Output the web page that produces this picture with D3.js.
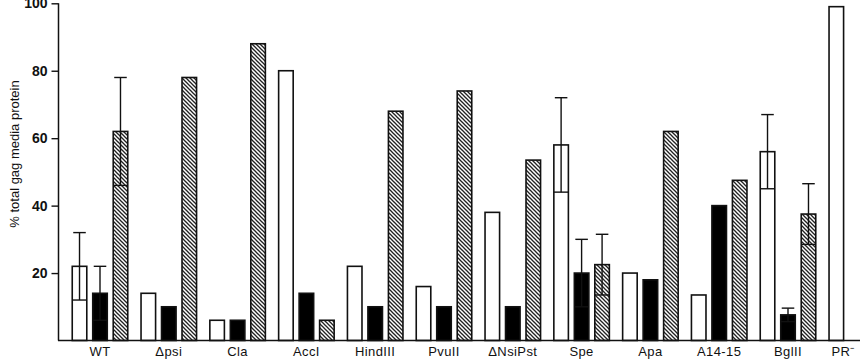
<!DOCTYPE html>
<html>
<head>
<meta charset="utf-8">
<script src="https://d3js.org/d3.v7.min.js"></script>
<style>
  body { margin: 0; background: #fff; }
  text { font-family: "Liberation Sans", Arial, sans-serif; fill: #111; }
</style>
</head>
<body>
<script>
// categories along the x axis
var groups = ['WT', 'Δpsi', 'Cla', 'AccI', 'HindIII', 'PvuII', 'ΔNsiPst', 'Spe', 'Apa', 'A14-15', 'BglII', 'PR'];
var series = ['open', 'solid', 'hatched'];

// values per series (% total gag media protein), null = no bar
var openVals    = [22, 14, 6, 80, 22, 16, 38, 58, 20, 13.5, 56, 99];
var solidVals   = [14, 10, 6, 14, 10, 10, 10, 20, 18, 40, 7.6, null];
var hatchedVals = [62, 78, 88, 6, 68, 74, 53.5, 22.5, 62, 47.5, 37.5, null];

// error bar half widths, 0 = none
var openErr    = [10, 0, 0, 0, 0, 0, 0, 14, 0, 0, 11, 0];
var solidErr   = [8, 0, 0, 0, 0, 0, 0, 10, 0, 0, 2, 0];
var hatchedErr = [16, 0, 0, 0, 0, 0, 0, 9, 0, 0, 9, 0];

var yTicks = [20, 40, 60, 80, 100];

var W = 860, H = 364;

var svg = d3.select('body').append('svg')
  .attr('width', W)
  .attr('height', H);

// hatch pattern
svg.append('defs').append('pattern')
  .attr('id', 'hatch')
  .attr('patternUnits', 'userSpaceOnUse')
  .attr('width', 4).attr('height', 4)
  .selectAll('path')
  .data(['M0,0 L4,4', 'M-1,3 L1,5', 'M3,-1 L5,1'])
  .enter().append('path')
  .attr('d', function(d) { return d; })
  .attr('stroke', '#222')
  .attr('stroke-width', 1.3);

var y = d3.scaleLinear().domain([0, 100]).range([340.5, 3.3]);

var x = d3.scaleBand().domain(groups)
  .range([65.6, 65.6 + groups.length * 68.8])
  .paddingInner(0.193).paddingOuter(0.0965);

var xs = d3.scaleBand().domain(series)
  .range([0, x.bandwidth()])
  .paddingInner(0.29);

var valsBy = { open: openVals, solid: solidVals, hatched: hatchedVals };
var errBy = { open: openErr, solid: solidErr, hatched: hatchedErr };
var fillBy = { open: '#fff', solid: '#000', hatched: 'url(#hatch)' };

var bars = [];
groups.forEach(function(g, i) {
  series.forEach(function(s) {
    if (valsBy[s][i] != null) {
      bars.push({ g: g, s: s, v: valsBy[s][i], e: errBy[s][i] });
    }
  });
});

// bars
svg.selectAll('rect.bar')
  .data(bars)
  .enter().append('rect')
  .attr('class', 'bar')
  .attr('x', function(d) { return x(d.g) + xs(d.s); })
  .attr('y', function(d) { return y(d.v); })
  .attr('width', xs.bandwidth())
  .attr('height', function(d) { return y(0) - y(d.v); })
  .attr('fill', function(d) { return fillBy[d.s]; })
  .attr('stroke', '#111')
  .attr('stroke-width', 1.6);

// error bars
var eb = svg.selectAll('g.err')
  .data(bars.filter(function(d) { return d.e > 0; }))
  .enter().append('g')
  .attr('class', 'err')
  .attr('stroke', '#111')
  .attr('stroke-width', 1.4);

eb.append('line')
  .attr('x1', function(d) { return x(d.g) + xs(d.s) + xs.bandwidth() / 2; })
  .attr('x2', function(d) { return x(d.g) + xs(d.s) + xs.bandwidth() / 2; })
  .attr('y1', function(d) { return y(Math.max(0, d.v - d.e)); })
  .attr('y2', function(d) { return y(d.v + d.e); });

eb.append('line')
  .attr('x1', function(d) { return x(d.g) + xs(d.s) + 1; })
  .attr('x2', function(d) { return x(d.g) + xs(d.s) + xs.bandwidth() - 1; })
  .attr('y1', function(d) { return y(d.v + d.e); })
  .attr('y2', function(d) { return y(d.v + d.e); });

eb.append('line')
  .attr('x1', function(d) { return x(d.g) + xs(d.s); })
  .attr('x2', function(d) { return x(d.g) + xs(d.s) + xs.bandwidth(); })
  .attr('y1', function(d) { return y(Math.max(0, d.v - d.e)); })
  .attr('y2', function(d) { return y(Math.max(0, d.v - d.e)); });

// y axis
var yAxis = svg.append('g')
  .attr('transform', 'translate(58.5,0)')
  .call(d3.axisLeft(y).tickValues(yTicks).tickSize(7).tickSizeOuter(0).tickFormat(d3.format('d')));
yAxis.select('.domain').attr('stroke', '#111').attr('stroke-width', 1.5)
  .attr('d', 'M0,' + y(100) + 'V' + y(0));
yAxis.selectAll('.tick line').attr('stroke', '#111').attr('stroke-width', 1.4);
yAxis.selectAll('.tick text')
  .attr('x', -11)
  .attr('font-size', 14)
  .attr('font-weight', 'bold')
  .style('font-family', '"Liberation Sans", Arial, sans-serif')
  .attr('fill', '#111');

// baseline
svg.append('line')
  .attr('x1', 58).attr('x2', W)
  .attr('y1', y(0)).attr('y2', y(0))
  .attr('stroke', '#111').attr('stroke-width', 1.5);

// x labels
svg.selectAll('text.xl')
  .data(groups)
  .enter().append('text')
  .attr('class', 'xl')
  .attr('x', function(d) { return d === 'PR' ? x(d) + xs('open') + 14 : x(d) + x.bandwidth() / 2; })
  .attr('y', 356)
  .attr('text-anchor', 'middle')
  .attr('font-size', 13)
  .attr('letter-spacing', 0.4)
  .text(function(d) { return d === 'PR' ? 'PR⁻' : d; });

// y label
svg.append('text')
  .attr('transform', 'translate(19,154) rotate(-90)')
  .attr('text-anchor', 'middle')
  .attr('font-size', 13)
  .text('% total gag media protein');
</script>
</body>
</html>
